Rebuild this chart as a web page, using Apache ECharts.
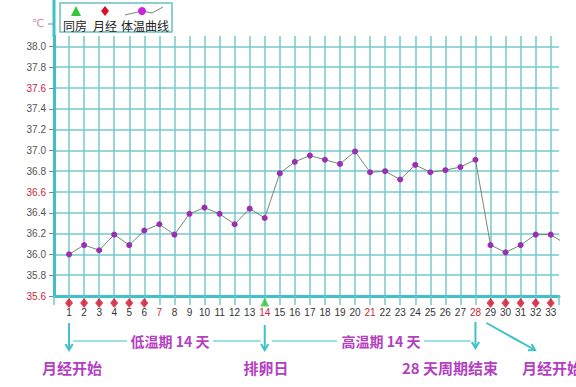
<!DOCTYPE html>
<html><head><meta charset="utf-8">
<script src="https://cdn.jsdelivr.net/npm/echarts@6/dist/echarts.min.js"></script>
<style>html,body{margin:0;padding:0;background:#fff}#c{width:576px;height:387px}</style>
</head><body><div id="c"></div>
<script>
// ---- data ----
const days = [1,2,3,4,5,6,7,8,9,10,11,12,13,14,15,16,17,18,19,20,21,22,23,24,25,26,27,28,29,30,31,32,33,34];
const temps = [36.0,36.09,36.04,36.19,36.09,36.23,36.29,36.19,36.39,36.45,36.39,36.29,36.44,36.35,
  36.78,36.89,36.95,36.91,36.87,36.99,36.79,36.80,36.72,36.86,36.79,36.81,36.84,36.91,
  36.09,36.02,36.09,36.19,36.19,36.10];
const periodDays = [1,2,3,4,5,6,29,30,31,32,33];
const intercourseDays = [14];
const redDayLabels = [7,14,21,28];
const redTempLabels = [35.6,36.6,37.6];
const legendLabels = ['同房','月经','体温曲线'];
const notes = {start:'月经开始', ovulation:'排卵日', low:'低温期 14 天', high:'高温期 14 天', end:'28 天周期结束', next:'月经开始'};
const noteDays = {start:1, ovulation:14, end:28};

const TEAL = '#3fc1c9', GRID = '#74c8cc', MAG = '#b43fc2';
const chart = echarts.init(document.getElementById('c'), null, {renderer:'svg'});
const yMin = 35.6, yMax = 38.1;
chart.setOption({
  animation:false,
  backgroundColor:'#fff',
  grid:{left:54,right:17,top:36,bottom:91},
  xAxis:{type:'value',min:0,max:33.55,interval:1,
    axisLine:{lineStyle:{color:TEAL,width:3}},
    axisTick:{show:true,length:9,lineStyle:{color:GRID,width:1.5}},
    axisLabel:{margin:11,fontSize:10,fontFamily:'Liberation Sans',
      formatter:v=>(v>=1&&v<=33&&Number.isInteger(v))?String(v):'',
      color:v=>redDayLabels.includes(Math.round(v))?'#c8283c':'#333'},
    splitLine:{show:true,showMinLine:false,showMaxLine:false,lineStyle:{color:GRID,width:1.5}}},
  yAxis:{type:'value',min:yMin,max:yMax,interval:0.2,
    axisLine:{show:true,lineStyle:{color:TEAL,width:3}},
    axisTick:{show:true,length:5,lineStyle:{color:'#888',width:1}},
    axisLabel:{margin:8,fontSize:10,fontFamily:'Liberation Sans',showMaxLabel:false,
      formatter:v=>(Math.abs(v-yMax)<1e-6)?'':v.toFixed(1),
      color:v=>redTempLabels.some(r=>Math.abs(r-v)<1e-6)?'#c8283c':'#555'},
    splitLine:{show:true,showMinLine:false,showMaxLine:false,lineStyle:{color:GRID,width:1.5}}},
  series:[
    {type:'line',data:days.map((d,i)=>[d,temps[i]]),clip:true,
     lineStyle:{color:'#6f8a72',width:1},symbol:'circle',symbolSize:6,
     itemStyle:{color:'#9b2fb3'},z:5},
    {type:'scatter',data:periodDays.map(d=>[d,yMin]),symbol:'diamond',symbolSize:[8,10],
     symbolOffset:[0,7],clip:false,itemStyle:{color:'#d8102c'},z:6},
    {type:'scatter',data:intercourseDays.map(d=>[d,yMin]),symbol:'triangle',symbolSize:[9,9],
     symbolOffset:[0,6],clip:false,itemStyle:{color:'#2ec83a'},z:6}
  ]
});

const px = d => chart.convertToPixel({xAxisIndex:0},d);
const x1 = px(noteDays.start), x14 = px(noteDays.ovulation), x28 = px(noteDays.end);
const ay0 = 323, ay1 = 350, hy = 341;
function arrow(xa,ya,xb,yb){
  const ang = Math.atan2(yb-ya,xb-xa), L=7, s=0.55;
  return [
    {type:'line',shape:{x1:xa,y1:ya,x2:xb,y2:yb},style:{stroke:TEAL,lineWidth:2}},
    {type:'polyline',shape:{points:[[xb-L*Math.cos(ang-s),yb-L*Math.sin(ang-s)],[xb,yb],[xb-L*Math.cos(ang+s),yb-L*Math.sin(ang+s)]]},style:{stroke:TEAL,lineWidth:2,fill:null}}
  ];
}
function hline(a,b){return {type:'line',shape:{x1:a,y1:hy,x2:b,y2:hy},style:{stroke:TEAL,lineWidth:1.2}};}
function note(t,x,y,align,size){return {type:'text',x:x,y:y,style:{text:t,fill:MAG,font:'bold '+(size||15)+'px "Noto Sans CJK SC"',textAlign:align||'center',textVerticalAlign:'middle'}};}
const g = [];
// axis extension and unit
g.push({type:'line',shape:{x1:54,y1:0,x2:54,y2:37},style:{stroke:TEAL,lineWidth:3}});
g.push({type:'line',shape:{x1:48,y1:24,x2:53,y2:24},style:{stroke:'#888',lineWidth:1}});
g.push({type:'text',x:44,y:23,style:{text:'℃',fill:'#c58ab8',font:'11px "DejaVu Sans"',textAlign:'right',textVerticalAlign:'middle'}});
// legend box
g.push({type:'rect',shape:{x:60,y:3,width:112,height:29},style:{stroke:'#66c2c4',lineWidth:1.5,fill:'#fff'}});
g.push({type:'polygon',shape:{points:[[76,6],[71,16],[81,16]]},style:{fill:'#2ec83a'}});
g.push({type:'polygon',shape:{points:[[105,6],[109,11],[105,16],[101,11]]},style:{fill:'#d8102c'}});
g.push({type:'polyline',shape:{points:[[125,15],[142,11],[152,13],[163,7]]},style:{stroke:'#6f8a72',lineWidth:1,fill:null}});
g.push({type:'circle',shape:{cx:142,cy:11,r:4},style:{fill:'#cc22dd'}});
[[75,legendLabels[0]],[105,legendLabels[1]],[145,legendLabels[2]]].forEach(([x,t])=>
  g.push({type:'text',x:x,y:25,style:{text:t,fill:'#222',font:'12px "Noto Sans CJK SC"',textAlign:'center',textVerticalAlign:'middle'}}));
// annotations
g.push(...arrow(x1,ay0,x1,ay1), ...arrow(x14,ay0+2,x14,ay1), ...arrow(x28,ay0-1,x28,ay1-2), ...arrow(x28+11,ay0,535,ay1));
g.push(hline(x1+4,127), hline(213,x14-4), hline(x14+7,337), hline(424,x28-5));
g.push(note(notes.low,170,hy,'center',14), note(notes.high,381,hy,'center',14));
g.push(note(notes.start,72,367), note(notes.ovulation,266,367), note(notes.end,450,367), note(notes.next,522,367,'left'));
chart.setOption({graphic:g.map(e=>Object.assign({z:100},e))});
</script></body></html>
